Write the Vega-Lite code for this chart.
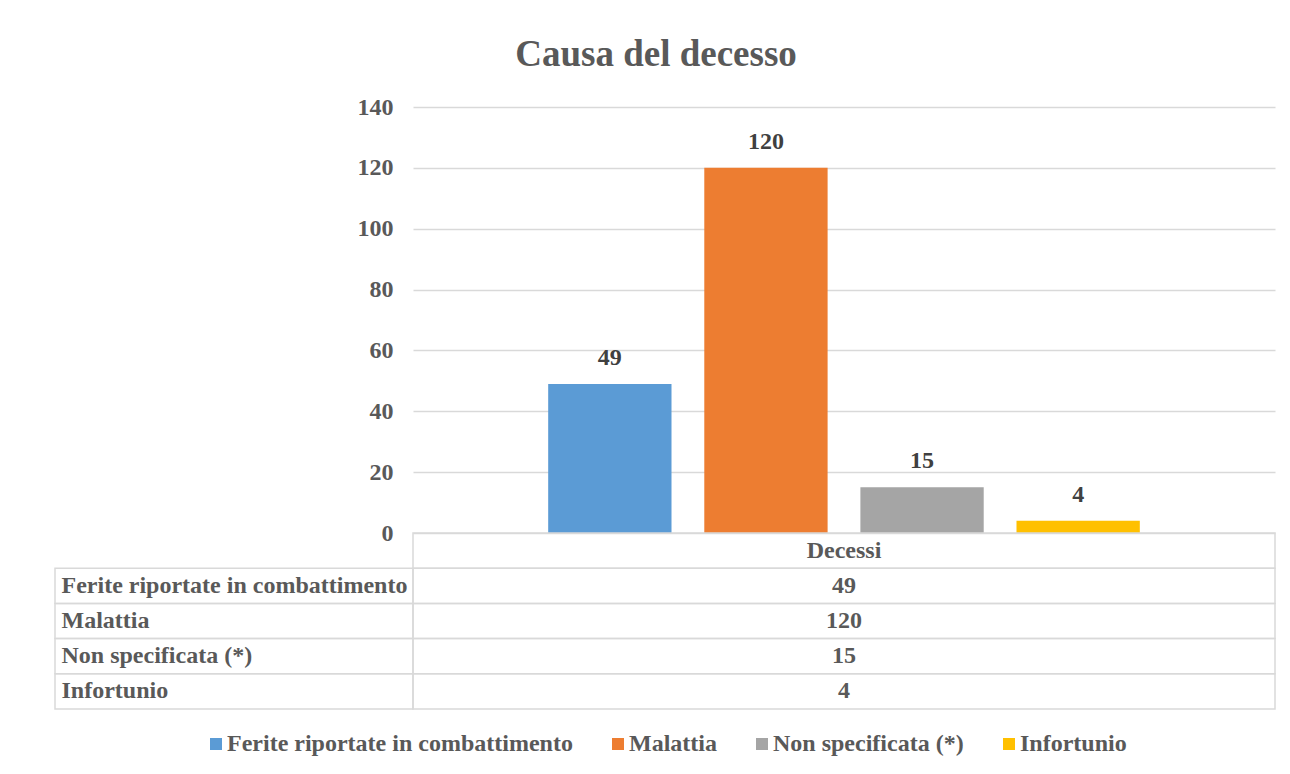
{
  "$schema": "https://vega.github.io/schema/vega-lite/v6.json",
  "padding": {"left": 54, "top": 36, "right": 16, "bottom": 10},
  "background": "white",
  "title": {
    "text": "Causa del decesso",
    "font": "Liberation Serif, Times New Roman, DejaVu Serif, serif",
    "fontSize": 37,
    "fontWeight": "bold",
    "color": "#595959",
    "anchor": "middle",
    "dx": -9,
    "offset": 21
  },
  "datasets": {
    "main": [
      {"cause": "Ferite riportate in combattimento", "value": 49},
      {"cause": "Malattia", "value": 120},
      {"cause": "Non specificata (*)", "value": 15},
      {"cause": "Infortunio", "value": 4}
    ]
  },
  "columns": 2,
  "spacing": 0,
  "bounds": "flush",
  "concat": [
    {
      "width": 358,
      "height": 426,
      "data": {"values": []},
      "mark": "text",
      "view": {"stroke": null}
    },
    {
      "width": 862,
      "height": 426,
      "data": {"name": "main"},
      "view": {"stroke": null},
      "encoding": {
        "x": {
          "field": "cause",
          "type": "nominal",
          "sort": null,
          "scale": {
            "domain": ["Ferite riportate in combattimento", "Malattia", "Non specificata (*)", "Infortunio"],
            "paddingInner": 0.21,
            "paddingOuter": 0.866
          },
          "axis": null
        },
        "y": {
          "field": "value",
          "type": "quantitative",
          "scale": {"domain": [0, 140]},
          "axis": {
            "values": [0, 20, 40, 60, 80, 100, 120, 140],
            "grid": true,
            "gridColor": "#d9d9d9",
            "gridWidth": 1.5,
            "domain": false,
            "ticks": false,
            "title": null,
            "labelFontSize": 24,
            "labelFontWeight": "bold",
            "labelColor": "#595959",
            "labelPadding": 20
          }
        }
      },
      "layer": [
        {
          "mark": {"type": "bar"},
          "encoding": {
            "color": {
              "field": "cause",
              "type": "nominal",
              "sort": null,
              "scale": {
                "domain": ["Ferite riportate in combattimento", "Malattia", "Non specificata (*)", "Infortunio"],
                "range": ["#5b9bd5", "#ed7d31", "#a5a5a5", "#ffc000"]
              },
              "legend": {
                "orient": "bottom",
                "direction": "horizontal",
                "title": null,
                "symbolType": "square",
                "symbolSize": 144,
                "symbolStrokeWidth": 0,
                "labelFontSize": 24,
                "labelFontWeight": "bold",
                "labelColor": "#595959",
                "labelLimit": 0,
                "labelOffset": -1,
                "columnPadding": 33,
                "padding": 0,
                "offset": 22
              }
            }
          }
        },
        {
          "mark": {
            "type": "text",
            "baseline": "middle",
            "dy": -26,
            "fontSize": 24,
            "fontWeight": "bold",
            "color": "#404040"
          },
          "encoding": {"text": {"field": "value", "type": "quantitative"}}
        }
      ]
    },
    {
      "width": 358,
      "height": 176,
      "data": {"name": "main"},
      "view": {"stroke": null},
      "encoding": {
        "y": {
          "field": "cause",
          "type": "nominal",
          "sort": null,
          "scale": {
            "domain": ["Decessi", "Ferite riportate in combattimento", "Malattia", "Non specificata (*)", "Infortunio"],
            "paddingInner": 0,
            "paddingOuter": 0
          },
          "axis": {
            "orient": "left",
            "zindex": 2,
            "domain": false,
            "ticks": false,
            "grid": false,
            "title": null,
            "labelAlign": "left",
            "labelPadding": -6,
            "labelLimit": 0,
            "labelFontSize": 24,
            "labelFontWeight": "bold",
            "labelColor": "#595959",
            "labelExpr": "datum.label == 'Decessi' ? '' : datum.label"
          }
        }
      },
      "mark": {"type": "bar", "fill": "transparent", "stroke": "#d9d9d9", "strokeWidth": 1.5}
    },
    {
      "width": 862,
      "height": 176,
      "view": {"stroke": null},
      "encoding": {
        "y": {
          "field": "cause",
          "type": "nominal",
          "sort": null,
          "scale": {
            "domain": ["Decessi", "Ferite riportate in combattimento", "Malattia", "Non specificata (*)", "Infortunio"],
            "paddingInner": 0,
            "paddingOuter": 0
          },
          "axis": null
        }
      },
      "layer": [
        {
          "data": {"values": [{"cause": "Decessi"}]},
          "mark": {"type": "bar", "fill": "transparent", "stroke": "#d9d9d9", "strokeWidth": 1.5}
        },
        {
          "data": {"name": "main"},
          "mark": {"type": "bar", "fill": "transparent", "stroke": "#d9d9d9", "strokeWidth": 1.5}
        },
        {
          "data": {"values": [{"cause": "Decessi"}]},
          "mark": {"type": "text", "baseline": "middle", "fontSize": 24, "fontWeight": "bold", "color": "#595959"},
          "encoding": {"text": {"field": "cause", "type": "nominal"}}
        },
        {
          "data": {"name": "main"},
          "mark": {"type": "text", "baseline": "middle", "fontSize": 24, "fontWeight": "bold", "color": "#595959"},
          "encoding": {"text": {"field": "value", "type": "quantitative"}}
        }
      ]
    }
  ],
  "resolve": {"scale": {"x": "independent", "y": "independent", "color": "shared"}},
  "config": {
    "font": "Liberation Serif, Times New Roman, DejaVu Serif, serif",
    "view": {"stroke": null},
    "legend": {"layout": {"anchor": "middle"}}
  }
}
